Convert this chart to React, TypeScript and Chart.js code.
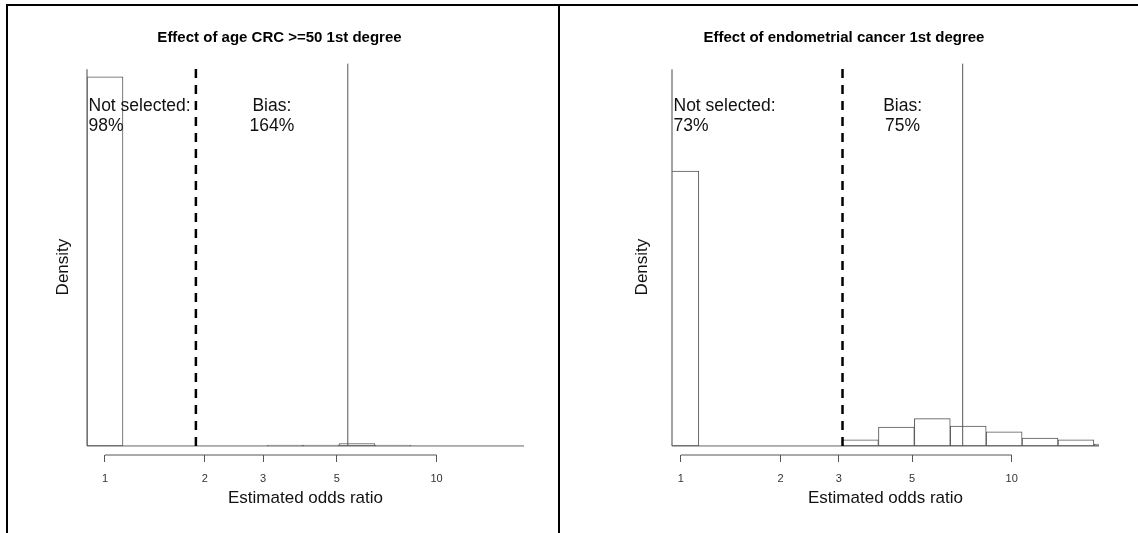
import React, { useEffect, useRef } from 'react';
import { Chart, registerables } from 'chart.js';

Chart.register(...registerables);

// ---- data ----
const binCentersOR = [1.0, 1.284, 1.649, 2.117, 2.718, 3.49, 4.482, 5.755, 7.389, 9.488, 12.18, 15.64, 20.09];
const ageDensity = [3.92, 0, 0, 0, 0, 0.01, 0.01, 0.025, 0.01, 0, 0, 0, 0];
const endoDensity = [2.92, 0, 0, 0, 0, 0.064, 0.2, 0.29, 0.21, 0.15, 0.085, 0.064, 0.02];
const tickValuesOR = [1, 2, 3, 5, 10];
const tickLabels = ['1', '2', '3', '5', '10'];
const xMinOR = [0.8825, 0.94];
const xMaxOR = [18.36, 18.36];
const yRange = [-0.096, 4.12];
const yAxisTop = 4;
const refLineTop = 4.06;
const annotationY = 3.5;
const densityLabelY = 1.9;
const panelTitles = ['Effect of age CRC >=50 1st degree', 'Effect of endometrial cancer 1st degree'];
const trueOR = [1.88, 3.08];
const meanOR = [5.4, 7.11];
const notSelectedPct = ['98%', '73%'];
const biasPct = ['164%', '75%'];
const densities = [ageDensity, endoDensity];

const FONT = "'Liberation Sans', Arial, Helvetica, sans-serif";

type PanelProps = {
  idx: number;
  left: number;
  width: number;
  yAxisWidth: number;
  rightWidth: number;
  densityOffset: number;
};

function Panel({ idx, left, width, yAxisWidth, rightWidth, densityOffset }: PanelProps) {
  const ref = useRef<HTMLCanvasElement | null>(null);
  useEffect(() => {
    if (!ref.current) return;
    const annot = {
      id: 'annot' + idx,
      afterDatasetsDraw(chart: any) {
        const ctx = chart.ctx;
        const xs = chart.scales.x;
        const ys = chart.scales.y;
        const yc = ys.getPixelForValue(annotationY);
        ctx.save();
        ctx.font = `17.5px ${FONT}`;
        ctx.fillStyle = '#111';
        ctx.textBaseline = 'middle';
        ctx.textAlign = 'left';
        const xl = xs.getPixelForValue(xMinOR[idx]) + 1.5;
        ctx.fillText('Not selected:', xl, yc - 10);
        ctx.fillText(notSelectedPct[idx], xl, yc + 10);
        ctx.textAlign = 'center';
        const xb = xs.getPixelForValue(Math.sqrt(trueOR[idx] * meanOR[idx]));
        ctx.fillText('Bias:', xb, yc - 10);
        ctx.fillText(biasPct[idx], xb, yc + 10);
        // y-axis label
        ctx.font = `17px ${FONT}`;
        ctx.translate(chart.chartArea.left - densityOffset, ys.getPixelForValue(densityLabelY));
        ctx.rotate(-Math.PI / 2);
        ctx.fillText('Density', 0, 0);
        ctx.restore();
      },
    };
    const chart = new Chart(ref.current, {
      type: 'bar',
      data: {
        datasets: [
          {
            type: 'line',
            data: [{ x: trueOR[idx], y: 0 }, { x: trueOR[idx], y: refLineTop }],
            borderColor: '#000',
            borderWidth: 2.5,
            borderDash: [9, 7],
            pointRadius: 0,
            order: 0,
          },
          {
            type: 'line',
            data: [{ x: meanOR[idx], y: 0 }, { x: meanOR[idx], y: refLineTop }],
            borderColor: '#555',
            borderWidth: 1,
            pointRadius: 0,
            order: 0,
          },
          {
            type: 'line',
            data: [{ x: xMinOR[idx], y: 0 }, { x: xMinOR[idx], y: yAxisTop }],
            borderColor: '#666',
            borderWidth: 1.2,
            pointRadius: 0,
            clip: false,
            order: 0,
          },
          {
            type: 'line',
            data: [{ x: xMinOR[idx], y: 0 }, { x: xMaxOR[idx], y: 0 }],
            borderColor: '#666',
            borderWidth: 1,
            pointRadius: 0,
            order: 0,
          },
          {
            type: 'line',
            data: [{ x: tickValuesOR[0], y: yRange[0] }, { x: tickValuesOR[tickValuesOR.length - 1], y: yRange[0] }],
            borderColor: '#555',
            borderWidth: 1,
            pointRadius: 0,
            clip: false,
            order: 0,
          },
          {
            type: 'bar',
            data: binCentersOR.map((x, k) => ({ x, y: densities[idx][k] })),
            backgroundColor: '#fff',
            borderColor: '#555',
            borderWidth: 1,
            borderSkipped: false,
            barPercentage: 1,
            categoryPercentage: 1,
            order: 1,
          },
        ] as any,
      },
      options: {
        animation: false,
        responsive: false,
        maintainAspectRatio: false,
        events: [],
        layout: { padding: { left: 0, right: 0, top: 0, bottom: 0 } },
        plugins: {
          legend: { display: false },
          tooltip: { enabled: false },
          title: {
            display: true,
            text: panelTitles[idx],
            color: '#000',
            font: { family: FONT, size: 15, weight: 'bold' },
            padding: { top: 29, bottom: 11 },
          },
        },
        scales: {
          x: {
            type: 'logarithmic',
            min: xMinOR[idx],
            max: xMaxOR[idx],
            offset: false,
            grid: {
              display: true,
              drawOnChartArea: false,
              drawTicks: true,
              tickLength: 7,
              color: '#555',
              offset: false,
            },
            border: { display: false },
            ticks: {
              autoSkip: false,
              maxRotation: 0,
              padding: 10,
              color: '#333',
              font: { family: FONT, size: 11 },
              callback: (_v: any, i: number) => tickLabels[i],
            },
            afterBuildTicks: (s: any) => {
              s.ticks = tickValuesOR.map((v) => ({ value: v }));
            },
            title: {
              display: true,
              text: 'Estimated odds ratio',
              color: '#111',
              font: { family: FONT, size: 17 },
              padding: { top: 0, bottom: 24 },
            },
            afterFit: (s: any) => {
              s.height = 78;
            },
          },
          y: {
            type: 'linear',
            position: 'left',
            min: yRange[0],
            max: yRange[1],
            grid: { display: false },
            border: { display: false },
            ticks: { display: false },
            afterFit: (s: any) => {
              s.width = yAxisWidth;
            },
          },
          yR: {
            type: 'linear',
            position: 'right',
            grid: { display: false },
            border: { display: false },
            ticks: { display: false },
            afterFit: (s: any) => {
              s.width = rightWidth;
            },
          },
        },
      } as any,
      plugins: [annot],
    });
    return () => chart.destroy();
  }, [idx, left, width, yAxisWidth, rightWidth, densityOffset]);

  return (
    <canvas
      ref={ref}
      width={width}
      height={533}
      style={{ position: 'absolute', left, top: 0, width, height: 533 }}
    />
  );
}

export default function App() {
  useEffect(() => {
    document.body.style.margin = '0';
  }, []);
  return (
    <div style={{ position: 'relative', width: 1138, height: 533, background: '#fff', overflow: 'hidden' }}>
      <Panel idx={0} left={0} width={559} yAxisWidth={87} rightWidth={35} densityOffset={24} />
      <Panel idx={1} left={559} width={570} yAxisWidth={113} rightWidth={30} densityOffset={30} />
      <div style={{ position: 'absolute', left: 6, top: 4, width: 1132, height: 2, background: '#000' }} />
      <div style={{ position: 'absolute', left: 6, top: 4, width: 2, height: 529, background: '#000' }} />
      <div style={{ position: 'absolute', left: 558, top: 4, width: 2, height: 529, background: '#000' }} />
    </div>
  );
}
